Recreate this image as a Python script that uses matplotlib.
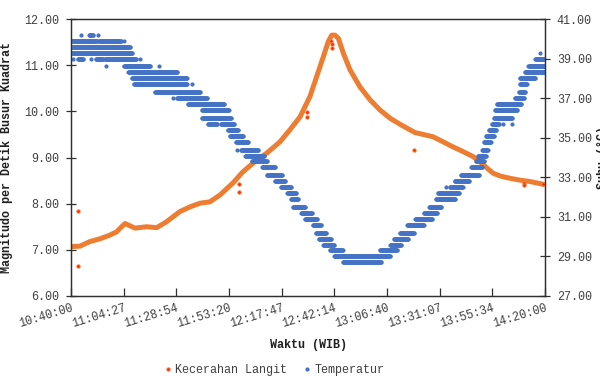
import matplotlib
matplotlib.use("Agg")
import matplotlib.pyplot as plt
import numpy as np
from matplotlib.lines import Line2D

# ---- data (minutes after 10:40:00) ----
tick_labels = ["10:40:00", "11:04:27", "11:28:54", "11:53:20", "12:17:47",
               "12:42:14", "13:06:40", "13:31:07", "13:55:34", "14:20:00"]

# sky brightness (mag/arcsec^2), main trace
sky_min = [0.0, 4.2, 8.8, 13.5, 18.1, 21.2, 23.5, 25.1, 27.4, 29.7, 35.1, 39.8,
           44.4, 48.3, 50.6, 55.2, 59.9, 64.5, 69.2, 75.2, 79.8, 86.3, 91.0, 97.0,
           101.6, 106.3, 110.9, 114.0, 117.1, 119.4, 121.0, 122.5, 124.1, 126.4,
           129.5, 134.1, 138.8, 143.4, 148.1, 152.7, 157.3, 159.7, 163.4, 168.0,
           172.7, 177.3, 181.9, 186.6, 189.8, 193.1, 195.9, 199.1, 203.7, 208.4,
           213.0, 219.1]
sky_mag = [7.07, 7.08, 7.18, 7.24, 7.32, 7.39, 7.50, 7.57, 7.52, 7.47, 7.50, 7.48,
           7.61, 7.75, 7.83, 7.93, 8.01, 8.04, 8.19, 8.45, 8.69, 8.95, 9.10, 9.34,
           9.60, 9.88, 10.32, 10.75, 11.18, 11.51, 11.65, 11.65, 11.58, 11.26,
           10.90, 10.53, 10.25, 10.03, 9.85, 9.72, 9.60, 9.54, 9.50, 9.45,
           9.34, 9.23, 9.13, 9.02, 8.91, 8.77, 8.66, 8.60, 8.55, 8.51,
           8.48, 8.42]

# sky brightness readings away from the trace
odd_min = [3.4, 3.4, 78.1, 78.0, 109.7, 109.7, 120.5, 121.0, 121.0, 159.3, 210.4, 210.4, 219.2]
odd_mag = [7.84, 6.65, 8.42, 8.26, 9.99, 9.87, 11.52, 11.45, 11.38, 9.16, 8.45, 8.40, 8.42]

# temperature (deg C): runs of constant reading, start / end minute
temp_level = [40.2, 40.2, 40.2,
              39.9, 39.9, 39.9,
              39.6, 39.3,
              39.0, 39.0, 39.0, 39.0, 39.0, 39.0,
              38.6, 38.6, 38.6,
              38.3, 38.0, 37.7, 37.7,
              37.3, 37.0, 37.0, 36.7, 36.4, 36.0, 35.7, 35.7,
              35.4, 35.1, 34.8, 34.4, 34.4, 34.1, 33.8, 33.5, 33.1, 32.8,
              32.5, 32.2, 31.9, 31.5, 31.2, 30.9, 30.6, 30.2, 29.9, 29.6,
              29.3, 29.0, 28.7,
              29.3, 29.6, 29.9, 30.2, 30.6, 30.9, 31.2, 31.5, 31.9, 32.2,
              32.5, 32.5, 32.8, 33.1, 33.5, 33.8, 34.1, 34.4, 34.8, 35.1,
              35.4, 35.7, 35.7, 35.7, 36.0, 36.4, 36.7, 37.0, 37.3, 37.7,
              38.0, 38.3, 38.6, 39.0, 39.3]
temp_start = [4.5, 8.4, 12.5,
              0.0, 13.0, 24.6,
              0.0, 0.0,
              0.8, 3.2, 9.3, 11.6, 15.8, 32.0,
              16.2, 24.6, 40.8,
              26.5, 28.3, 29.2, 56.2,
              39.0, 47.3, 49.2, 54.3, 60.8, 60.8, 63.6, 69.6,
              72.9, 73.8, 76.6, 77.0, 78.9, 80.8, 84.0, 88.7, 91.0, 94.7,
              97.5, 100.3, 102.1, 103.0, 106.8, 108.6, 112.3, 113.7, 115.1, 117.0,
              120.2, 122.1, 126.2,
              143.4, 148.1, 149.9, 152.7, 156.0, 159.7, 163.8, 166.2, 169.4, 170.3,
              174.1, 175.9, 178.0, 181.0, 185.7, 188.0, 188.9, 190.8, 191.7, 192.6,
              193.9, 195.4, 200.5, 204.7, 196.3, 196.8, 197.7, 206.1, 207.9, 208.4,
              208.4, 210.7, 212.3, 215.4, 217.7]
temp_end = [4.5, 10.2, 12.5,
            12.1, 23.2, 24.6,
            27.4, 28.3,
            0.8, 5.6, 9.3, 14.9, 30.2, 32.0,
            16.2, 36.7, 40.8,
            49.2, 53.8, 53.8, 56.2,
            59.9, 47.3, 63.1, 71.0, 73.3, 74.3, 67.8, 75.7,
            77.5, 79.8, 82.2, 77.0, 86.8, 89.6, 91.0, 94.7, 97.9, 99.3,
            102.1, 104.4, 105.4, 108.6, 111.9, 114.2, 116.0, 118.4, 120.7, 122.1,
            126.2, 148.1, 143.9,
            151.3, 153.2, 156.4, 159.2, 163.8, 167.6, 169.9, 171.7, 178.2, 180.1,
            174.1, 181.9, 184.8, 189.4, 190.8, 191.7, 192.6, 193.5, 194.9, 196.3,
            197.3, 198.7, 200.5, 204.7, 204.7, 207.0, 208.9, 210.3, 210.7, 211.6,
            215.4, 220.0, 220.0, 220.0, 217.7]

# ---- style ----
FONT = ["Liberation Mono", "DejaVu Sans Mono"]
plt.rcParams["font.family"] = FONT
plt.rcParams["font.size"] = 8.5
TEXT = "#404040"
BLUE = "#4472C4"
ORANGE = "#ED7D31"
RED = "#FF3300"

fig = plt.figure(figsize=(6, 3.76), dpi=100)
ax = fig.add_axes([71 / 600, 1 - 296 / 376, 474 / 600, 277 / 376])
ax2 = ax.twinx()

# sky brightness
ax.plot(sky_min, sky_mag, color=ORANGE, lw=3.6, solid_capstyle="round",
        solid_joinstyle="round", zorder=2)
ax.plot(odd_min, odd_mag, ls="none", marker="o", ms=2.6, mfc=RED, mec="#F28C55",
        mew=0.5, zorder=3)

# temperature: expand each constant-reading run into samples
tx, ty = [], []
for lvl, t0, t1 in zip(temp_level, temp_start, temp_end):
    n = max(1, int(round((t1 - t0) / 0.2)) + 1)
    tx.extend(np.linspace(t0, t1, n))
    ty.extend([lvl] * n)
ax2.plot(tx, ty, ls="none", marker="o", ms=3.0, mfc=BLUE, mec="none")

ax.set_xlim(0, 220)
ax.set_ylim(6, 12)
ax2.set_ylim(27, 41)
ax.set_xticks(np.linspace(0, 220, len(tick_labels)))
ax.set_xticklabels(tick_labels, rotation=17, ha="right", rotation_mode="anchor")
ax.set_yticks(np.arange(6, 12.01, 1))
ax.set_yticklabels([f"{v:.2f}" for v in np.arange(6, 12.01, 1)])
ax2.set_yticks(np.arange(27, 41.01, 2))
ax2.set_yticklabels([f"{v:.2f}" for v in np.arange(27, 41.01, 2)])

for a in (ax, ax2):
    for s in a.spines.values():
        s.set_color("#303030")
        s.set_linewidth(0.9)
ax.tick_params(axis="y", direction="inout", length=7, width=0.9, colors="#303030",
               labelcolor=TEXT, pad=5)
ax.tick_params(axis="x", direction="in", length=6, width=0.9, colors="#303030",
               labelcolor=TEXT, pad=4)
ax2.tick_params(axis="y", direction="inout", length=7, width=0.9, colors="#303030",
                labelcolor=TEXT, pad=5)

ax.set_xlabel("Waktu (WIB)", fontweight="bold", color="#202020", labelpad=7)
ax.set_ylabel("Magnitudo per Detik Busur Kuadrat", fontweight="bold", color="#202020",
              labelpad=8)
# right axis title sits mostly outside the canvas, as in the source
fig.text(597 / 600, 0.58, "Suhu (°C)", rotation=90, ha="left", va="center",
         fontweight="bold", color="#202020")

handles = [
    Line2D([], [], ls="none", marker="o", ms=2.6, mfc=RED, mec="#F28C55", mew=0.5),
    Line2D([], [], ls="none", marker="o", ms=3.0, mfc=BLUE, mec="none"),
]
fig.legend(handles, ["Kecerahan Langit", "Temperatur"], loc="center",
           bbox_to_anchor=(0.455, 0.015), ncol=2, frameon=False, fontsize=8.5,
           handletextpad=0.1, columnspacing=1.2, handlelength=1.0,
           labelcolor=TEXT)

fig.savefig("out.png", dpi=100)
